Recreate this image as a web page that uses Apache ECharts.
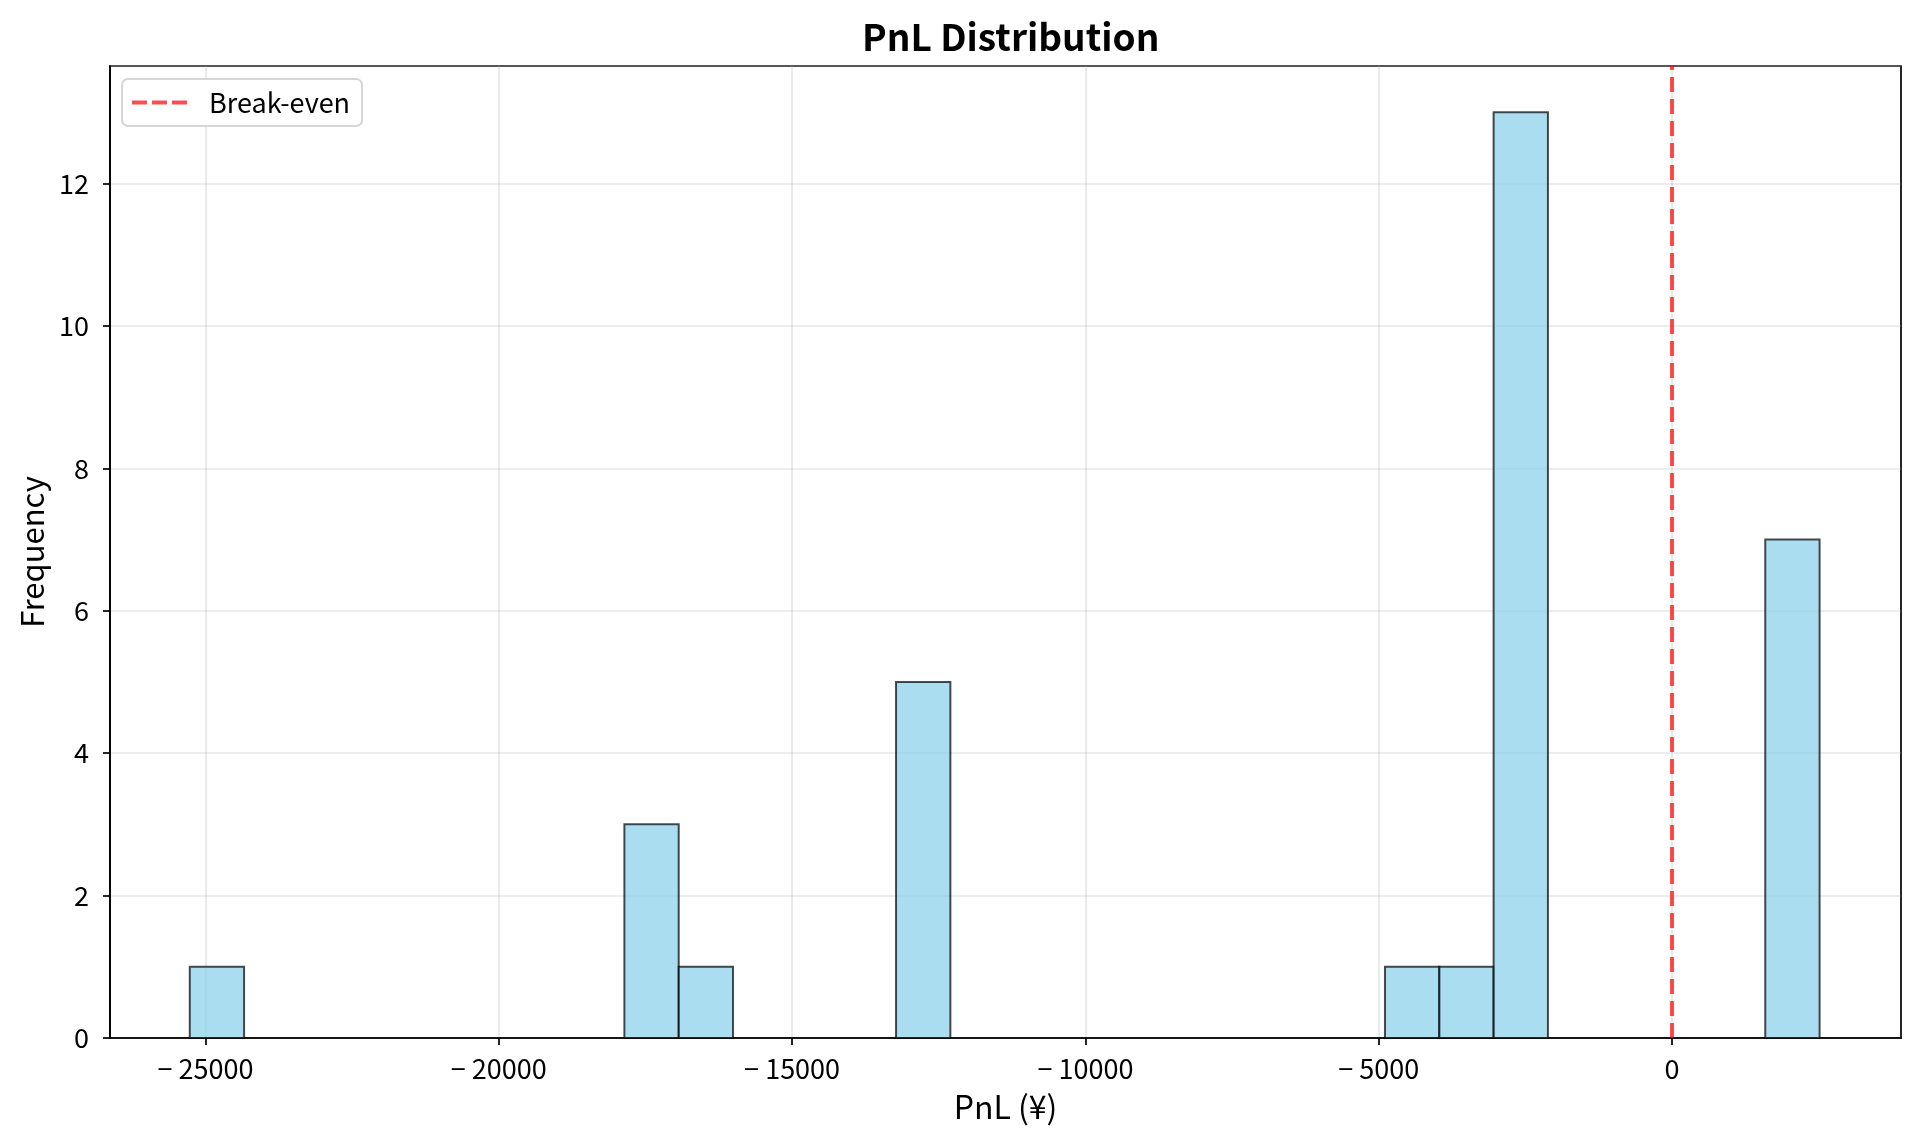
<!DOCTYPE html>
<html>
<head>
<meta charset="utf-8">
<title>PnL Distribution</title>
<script src="https://cdn.jsdelivr.net/npm/echarts@6/dist/echarts.min.js"></script>
<style>
  html, body { margin: 0; padding: 0; background: #fff; }
  #chart { width: 1920px; height: 1145px; }
</style>
</head>
<body>
<div id="chart"></div>
<script>
// 直方图的各个非空 bin（左右边界、频数）
const binLo = [-25268, -17859, -16933, -13228, -4893, -3967, -3041, 1590];
const binHi = [-24342, -16933, -16007, -12302, -3967, -3041, -2115, 2516];
const counts = [1, 3, 1, 5, 1, 1, 13, 7];

// 坐标轴范围与刻度
const xMin = -26628;
const xMax = 3904;
const xTicks = [-25000, -20000, -15000, -10000, -5000, 0];
const yMax = 13.65;

// 盈亏平衡线
const breakEven = 0;

const FONT = "'Noto Sans CJK JP', 'Noto Sans', sans-serif";

const histData = binLo.map((lo, i) => [lo, binHi[i], counts[i]]);

const chart = echarts.init(document.getElementById("chart"));

const option = {
  backgroundColor: "#ffffff",
  animation: false,
  // 标题居中于绘图区（而不是整个画布）
  title: {
    text: "PnL Distribution",
    left: 857,
    top: 13,
    textStyle: {
      fontFamily: FONT,
      fontSize: 37,
      fontWeight: "bold",
      color: "#000",
    },
  },
  legend: {
    left: 122,
    top: 79,
    orient: "vertical",
    // 图例图标：三段红色虚线
    data: [
      {
        name: "Break-even",
        icon: "path://M0,0h15v4h-15z M20,0h15v4h-15z M40,0h15v4h-15z",
      },
    ],
    itemWidth: 55,
    itemHeight: 4,
    itemStyle: { color: "rgba(255,0,0,0.7)" },
    padding: [10, 12, 10, 10],
    backgroundColor: "#fff",
    borderColor: "#d6d6d6",
    borderWidth: 2,
    borderRadius: 6,
    textStyle: { fontFamily: FONT, fontSize: 27, color: "#000", padding: [0, 0, 0, 17] },
  },
  grid: {
    left: 110,
    right: 19,
    top: 66,
    bottom: 107,
    show: true,
    borderColor: "#000",
    borderWidth: 1.7,
    backgroundColor: "transparent",
  },
  xAxis: {
    type: "value",
    min: xMin,
    max: xMax,
    name: "PnL (¥)",
    nameLocation: "middle",
    nameGap: 53,
    nameTextStyle: { fontFamily: FONT, fontSize: 32, color: "#000" },
    axisLine: { show: true, onZero: false, lineStyle: { color: "#000", width: 1.7 } },
    axisTick: {
      show: true,
      length: 7,
      customValues: xTicks,
      lineStyle: { color: "#000", width: 1.7 },
    },
    axisLabel: {
      customValues: xTicks,
      margin: 17,
      fontFamily: FONT,
      fontSize: 27,
      color: "#000",
      formatter: (v) => String(v).replace("-", "\u2212 "),
    },
    splitLine: { show: true, lineStyle: { color: "rgba(176,176,176,0.3)", width: 1.7 } },
  },
  yAxis: {
    type: "value",
    min: 0,
    max: yMax,
    interval: 2,
    name: "Frequency",
    nameLocation: "middle",
    nameGap: 57,
    nameTextStyle: { fontFamily: FONT, fontSize: 31, color: "#000" },
    axisLine: { show: true, onZero: false, lineStyle: { color: "#000", width: 1.7 } },
    axisTick: { show: true, length: 7, lineStyle: { color: "#000", width: 1.7 } },
    axisLabel: {
      margin: 21,
      fontFamily: FONT,
      fontSize: 27,
      color: "#000",
      showMaxLabel: false,
    },
    splitLine: { show: true, lineStyle: { color: "rgba(176,176,176,0.3)", width: 1.7 } },
  },
  series: [
    {
      name: "hist",
      type: "custom",
      data: histData,
      encode: { x: [0, 1], y: 2 },
      renderItem: function (params, api) {
        const p0 = api.coord([api.value(0), 0]);
        const p1 = api.coord([api.value(1), api.value(2)]);
        return {
          type: "rect",
          shape: { x: p0[0], y: p1[1], width: p1[0] - p0[0], height: p0[1] - p1[1] },
          style: {
            fill: "rgba(135,206,235,0.7)",
            stroke: "rgba(0,0,0,0.7)",
            lineWidth: 2,
          },
        };
      },
      z: 3,
    },
    {
      name: "Break-even",
      type: "line",
      data: [
        [breakEven, 0],
        [breakEven, yMax],
      ],
      symbol: "none",
      lineStyle: { color: "rgba(255,0,0,0.7)", width: 4, type: [15, 7] },
      itemStyle: { color: "rgba(255,0,0,0.7)" },
      z: 4,
    },
  ],
};

chart.setOption(option);
</script>
</body>
</html>
